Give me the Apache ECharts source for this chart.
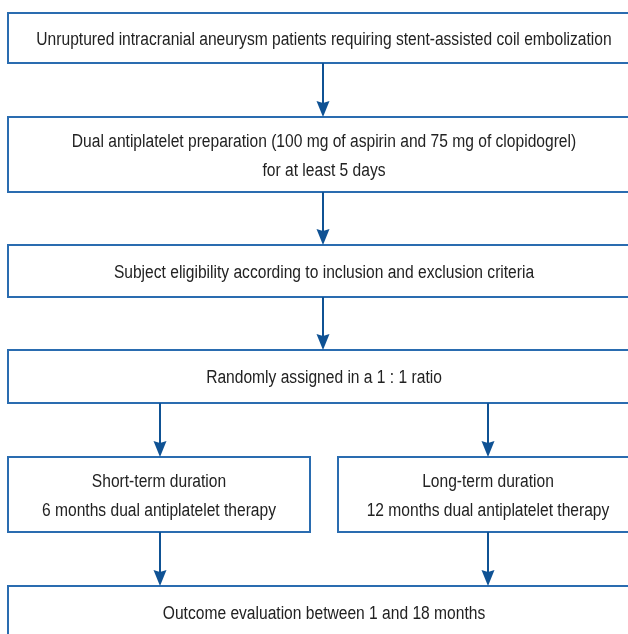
<!DOCTYPE html>
<html>
<head>
<meta charset="utf-8">
<script src="https://cdn.jsdelivr.net/npm/echarts@6/dist/echarts.min.js"></script>
<style>
    html, body { margin: 0; padding: 0; background: #fff; }
    #main { width: 628px; height: 634px; }
</style>
</head>
<body>
<div id="main"></div>
<script>
// flow boxes
var boxTexts = [
    'Unruptured intracranial aneurysm patients requiring stent-assisted coil embolization',
    'Dual antiplatelet preparation (100 mg of aspirin and 75 mg of clopidogrel)\nfor at least 5 days',
    'Subject eligibility according to inclusion and exclusion criteria',
    'Randomly assigned in a 1 : 1 ratio',
    'Short-term duration\n6 months dual antiplatelet therapy',
    'Long-term duration\n12 months dual antiplatelet therapy',
    'Outcome evaluation between 1 and 18 months'
];
var boxLeft = [8, 8, 8, 8, 8, 338, 8];
var boxRight = [640, 640, 640, 640, 310, 640, 640];
var boxTop = [13, 117, 245, 350, 457, 457, 586];
var boxBottom = [63, 192, 297, 403, 532, 532, 638];

// arrows: x, from, to
var arrowX = [323, 323, 323, 160, 488, 160, 488];
var arrowFrom = [63, 192, 297, 403, 403, 532, 532];
var arrowTo = [117, 245, 350, 457, 457, 586, 586];

var boxData = [];
for (var i = 0; i < boxTexts.length; i++) {
    boxData.push([boxLeft[i], boxTop[i], boxRight[i], boxBottom[i], boxTexts[i]]);
}
var arrowData = [];
for (var j = 0; j < arrowX.length; j++) {
    arrowData.push([arrowX[j], arrowFrom[j], arrowTo[j]]);
}

var lineColor = '#2a6cb0';
var arrowColor = '#0f5294';

var option = {
    animation: false,
    grid: { left: 0, right: 0, top: 0, bottom: 0 },
    xAxis: { type: 'value', min: 0, max: 628, show: false },
    yAxis: { type: 'value', min: 0, max: 634, inverse: true, show: false },
    series: [
        {
            type: 'custom',
            clip: false,
            data: boxData,
            renderItem: function (params, api) {
                var p0 = api.coord([api.value(0), api.value(1)]);
                var p1 = api.coord([api.value(2), api.value(3)]);
                var txt = boxData[params.dataIndex][4];
                var cx = (p0[0] + p1[0]) / 2;
                if (params.dataIndex != 4 && params.dataIndex != 5) cx = 324;
                if (params.dataIndex == 5) cx = 488;
                return {
                    type: 'group',
                    children: [
                        {
                            type: 'rect',
                            shape: { x: p0[0], y: p0[1], width: p1[0] - p0[0], height: p1[1] - p0[1] },
                            style: { fill: '#fff', stroke: lineColor, lineWidth: 2 }
                        },
                        {
                            type: 'text',
                            x: cx,
                            y: (p0[1] + p1[1]) / 2 + 2,
                            scaleX: 0.866,
                            style: {
                                text: txt,
                                x: 0,
                                y: 0,
                                fill: '#222',
                                font: '18px "Liberation Sans", Arial, sans-serif',
                                lineHeight: 29,
                                align: 'center',
                                verticalAlign: 'middle'
                            }
                        }
                    ]
                };
            }
        },
        {
            type: 'custom',
            clip: false,
            data: arrowData,
            renderItem: function (params, api) {
                var a = api.coord([api.value(0), api.value(1)]);
                var b = api.coord([api.value(0), api.value(2)]);
                var hl = 16, hw = 6.5;
                return {
                    type: 'group',
                    children: [
                        {
                            type: 'line',
                            shape: { x1: a[0], y1: a[1], x2: b[0], y2: b[1] - hl + 2 },
                            style: { stroke: arrowColor, lineWidth: 2 }
                        },
                        {
                            type: 'polygon',
                            shape: { points: [[b[0] - hw, b[1] - hl], [b[0], b[1] - hl + 2], [b[0] + hw, b[1] - hl], [b[0], b[1]]] },
                            style: { fill: arrowColor }
                        }
                    ]
                };
            }
        }
    ]
};

var chart = echarts.init(document.getElementById('main'));
chart.setOption(option);
</script>
</body>
</html>
